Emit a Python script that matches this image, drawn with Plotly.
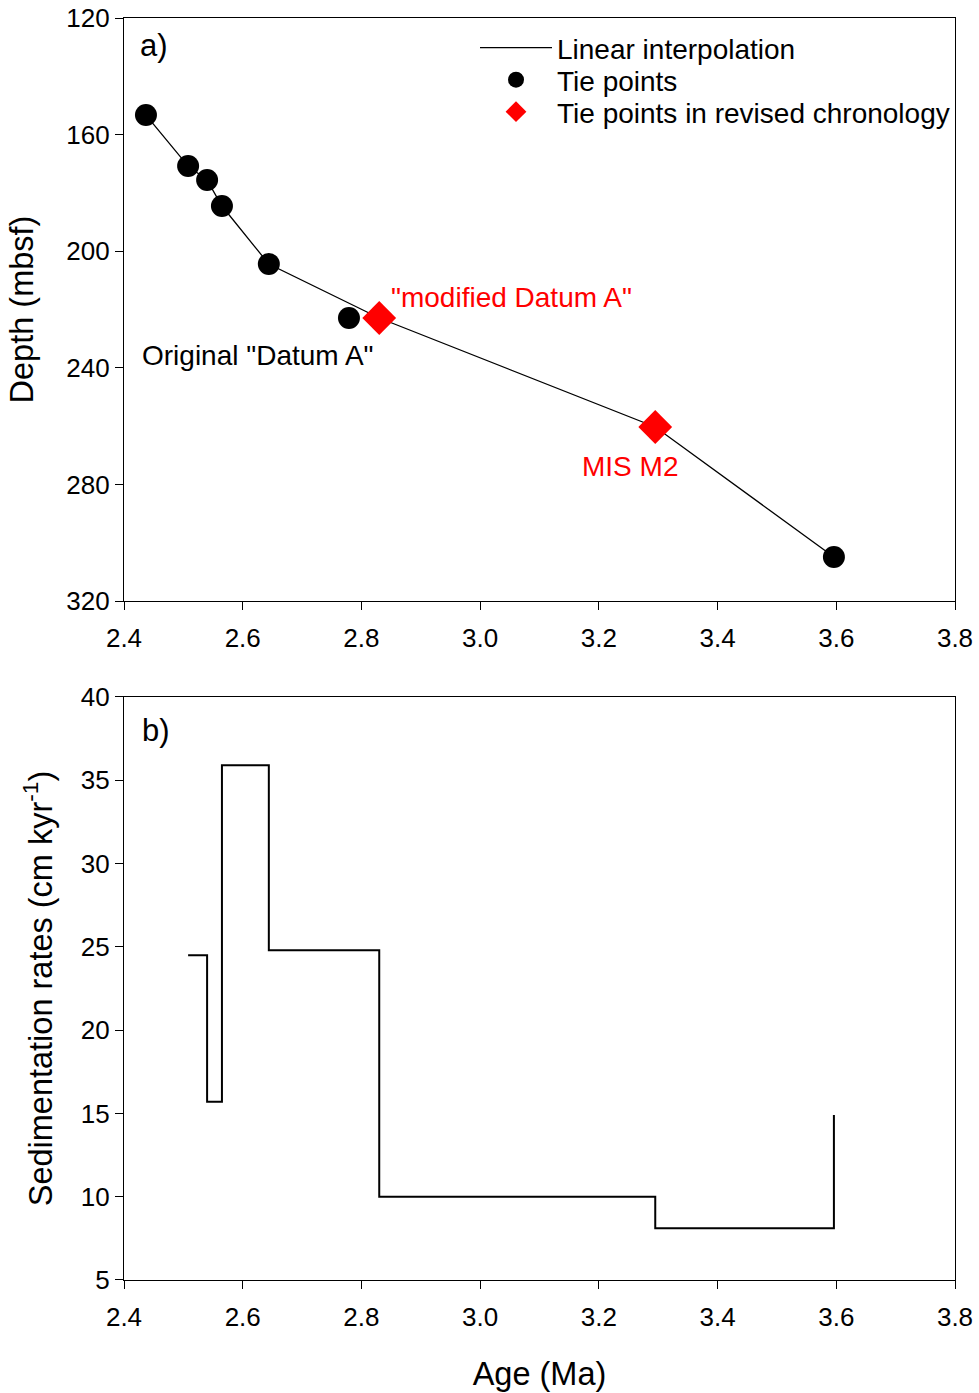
import plotly.graph_objects as go
from plotly.subplots import make_subplots

# ---- data ----
tie_age = [2.437, 2.508, 2.540, 2.565, 2.644, 2.779, 3.596]
tie_depth = [153.3, 170.8, 175.6, 184.5, 204.4, 222.9, 304.9]

rev_age = [2.830, 3.295]
rev_depth = [222.9, 260.3]

interp_age = [2.437, 2.508, 2.540, 2.565, 2.644, 2.830, 3.295, 3.596]
interp_depth = [153.3, 170.8, 175.6, 184.5, 204.4, 222.9, 260.3, 304.9]

sed_age = [2.508, 2.540, 2.565, 2.644, 2.830, 3.295, 3.596]
sed_rate = [24.5, 15.7, 35.9, 24.8, 10.0, 8.1, 14.9]

x_ticks = [2.4, 2.6, 2.8, 3.0, 3.2, 3.4, 3.6, 3.8]
depth_ticks = [120, 160, 200, 240, 280, 320]
rate_ticks = [5, 10, 15, 20, 25, 30, 35, 40]

FONT = "Arial, Liberation Sans, sans-serif"
RED = "#ff0000"

fig = make_subplots(rows=2, cols=1, vertical_spacing=0.0)

fig.add_trace(go.Scatter(x=interp_age, y=interp_depth, mode="lines",
                         line=dict(color="black", width=1.3),
                         name="Linear interpolation", legend="legend"), row=1, col=1)
fig.add_trace(go.Scatter(x=tie_age, y=tie_depth, mode="markers",
                         marker=dict(symbol="circle", size=22, color="black"),
                         name="Tie points", legend="legend2"), row=1, col=1)
fig.add_trace(go.Scatter(x=rev_age, y=rev_depth, mode="markers",
                         marker=dict(symbol="diamond", size=26, color=RED),
                         name="Tie points in revised chronology", legend="legend3"), row=1, col=1)

fig.add_trace(go.Scatter(x=sed_age, y=sed_rate, mode="lines",
                         line=dict(color="black", width=2, shape="hv"),
                         showlegend=False), row=2, col=1)

axis_common = dict(showline=True, linecolor="black", linewidth=1.3, mirror=True,
                   ticks="outside", ticklen=8, tickwidth=1.3, tickcolor="black",
                   showgrid=False, zeroline=False, automargin=False,
                   tickfont=dict(family=FONT, size=26, color="black"))

LEG_X = (475 - 124) / 831
leg_common = dict(xanchor="left", yanchor="middle", bgcolor="rgba(0,0,0,0)",
                  font=dict(family=FONT, size=28, color="black"), itemwidth=72)

fig.update_layout(
    width=979, height=1393,
    margin=dict(l=124, r=24, t=18, b=113),
    paper_bgcolor="white", plot_bgcolor="white",
    font=dict(family=FONT, color="black"),
    xaxis=dict(domain=[0, 1], range=[2.4, 3.8], tickvals=x_ticks,
               ticktext=[f"{v:.1f}" for v in x_ticks], anchor="y",
               ticklabelstandoff=6, **axis_common),
    yaxis=dict(domain=[0.538, 1.0], range=[320, 120], tickvals=depth_ticks,
               title=dict(text="Depth (mbsf)", font=dict(family=FONT, size=32.5), standoff=22),
               anchor="x", **axis_common),
    xaxis2=dict(domain=[0, 1], range=[2.4, 3.8], tickvals=x_ticks,
                ticktext=[f"{v:.1f}" for v in x_ticks], anchor="y2",
                ticklabelstandoff=6,
                title=dict(text="Age (Ma)", font=dict(family=FONT, size=32.5), standoff=30),
                **axis_common),
    yaxis2=dict(domain=[0.0, 0.462], range=[5, 40], tickvals=rate_ticks,
                title=dict(text="Sedimentation rates (cm kyr<sup>-1</sup>)",
                           font=dict(family=FONT, size=32.5), standoff=18),
                anchor="x2", **axis_common),
    legend=dict(x=LEG_X, y=(1280 - 48) / 1262, **leg_common),
    legend2=dict(x=LEG_X, y=(1280 - 80) / 1262, **leg_common),
    legend3=dict(x=LEG_X, y=(1280 - 112) / 1262, **leg_common),
    showlegend=True,
)

annos = [
    dict(x=0.017, y=0.9786, xref="paper", yref="paper", text="a)", showarrow=False,
         xanchor="left", yanchor="middle", font=dict(size=31, color="black", family=FONT)),
    dict(x=0.019, y=0.4358, xref="paper", yref="paper", text="b)", showarrow=False,
         xanchor="left", yanchor="middle", font=dict(size=31, color="black", family=FONT)),
    dict(x=2.6257, y=235.6, xref="x", yref="y", text='Original "Datum A"', showarrow=False,
         xanchor="center", yanchor="middle", font=dict(size=28, color="black", family=FONT)),
    dict(x=3.052, y=216.0, xref="x", yref="y", text='"modified Datum A"', showarrow=False,
         xanchor="center", yanchor="middle", font=dict(size=28, color=RED, family=FONT)),
    dict(x=3.252, y=273.7, xref="x", yref="y", text="MIS M2", showarrow=False,
         xanchor="center", yanchor="middle", font=dict(size=28, color=RED, family=FONT)),
]
fig.update_layout(annotations=annos)

fig.write_html("out.html")
